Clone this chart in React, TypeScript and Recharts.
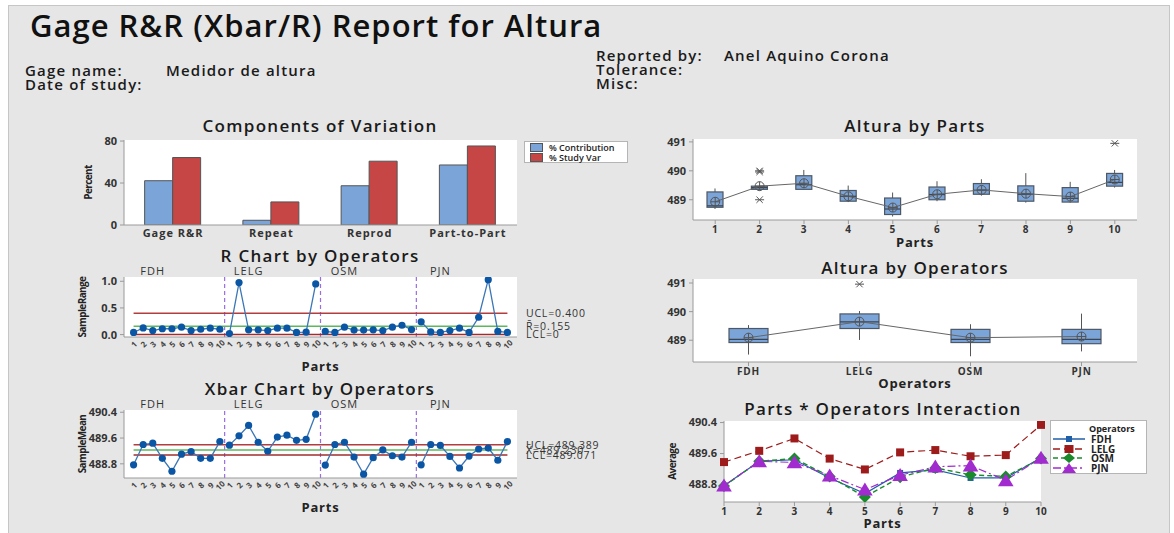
import React from "react";
import {
  Bar,
  CartesianGrid,
  ComposedChart,
  Line,
  ReferenceLine,
  XAxis,
  YAxis,
} from "recharts";

const FONT = "'Open Sans', 'DejaVu Sans', sans-serif";

// ---- Components of Variation
const compCategories = ["Gage R&R", "Repeat", "Reprod", "Part-to-Part"];
const pctContribution = [42.2, 4.5, 37.4, 57.2];
const pctStudyVar = [64.3, 22.0, 60.8, 75.3];

// ---- operators / parts
const operators = ["FDH", "LELG", "OSM", "PJN"];
const parts = ["1", "2", "3", "4", "5", "6", "7", "8", "9", "10"];

// sample ranges (parts 1..10) per operator
const rangeFDH = [0.04, 0.125, 0.075, 0.11, 0.11, 0.14, 0.075, 0.1, 0.12, 0.1];
const rangeLELG = [0.02, 0.975, 0.09, 0.09, 0.075, 0.12, 0.12, 0.04, 0.045, 0.95];
const rangeOSM = [0.06, 0.04, 0.14, 0.085, 0.085, 0.09, 0.075, 0.14, 0.175, 0.095];
const rangePJN = [0.24, 0.05, 0.04, 0.075, 0.12, 0.04, 0.325, 1.03, 0.06, 0.04];

// sample means (parts 1..10) per operator
const meanFDH = [488.77, 489.4, 489.44, 488.97, 488.57, 489.1, 489.18, 488.97, 488.97, 489.49];
const meanLELG = [489.38, 489.67, 489.99, 489.47, 489.19, 489.63, 489.69, 489.53, 489.56, 490.34];
const meanOSM = [488.76, 489.4, 489.47, 489.01, 488.48, 488.99, 489.23, 489.05, 489.01, 489.47];
const meanPJN = [488.77, 489.4, 489.37, 489.03, 488.67, 489.04, 489.26, 489.29, 488.91, 489.49];

const rUCL = 0.4;
const rBar = 0.155;
const rLCL = 0;
const xUCL = 489.389;
const xBar = 489.23;
const xLCL = 489.071;

// ---- Altura by Parts (box stats)
const partLo = [488.68, 489.36, 489.36, 488.92, 488.42, 488.95, 489.14, 488.9, 488.9, 489.42];
const partQ1 = [488.74, 489.36, 489.36, 488.95, 488.49, 489.0, 489.19, 488.95, 488.92, 489.47];
const partMed = [488.79, 489.42, 489.52, 489.12, 488.68, 489.18, 489.33, 489.19, 489.05, 489.6];
const partQ3 = [489.27, 489.47, 489.83, 489.32, 489.06, 489.44, 489.56, 489.48, 489.42, 489.91];
const partHi = [489.39, 489.47, 490.03, 489.49, 489.25, 489.64, 489.71, 489.92, 489.62, 490.03];
const partMean = [488.93, 489.47, 489.57, 489.12, 488.73, 489.19, 489.34, 489.21, 489.11, 489.7];
const partOutA = [null, 490.0, null, null, null, null, null, null, null, 490.95];
const partOutB = [null, 489.96, null, null, null, null, null, null, null, null];
const partOutC = [null, 489.0, null, null, null, null, null, null, null, null];

// ---- Altura by Operators (box stats)
const opLo = [488.5, 489.01, 488.44, 488.61];
const opQ1 = [488.92, 489.41, 488.92, 488.88];
const opMed = [489.03, 489.64, 489.03, 489.03];
const opQ3 = [489.41, 489.92, 489.38, 489.38];
const opHi = [489.53, 490.02, 489.56, 489.93];
const opMean = [489.09, 489.65, 489.09, 489.13];
const opOut = [null, 490.96, null, null];

const AXIS = "#9a9a9a";
const TICK = { fontSize: 11, fill: "#333", fontWeight: 700 };
const BOXBLUE = "#7ba4d8";

const compData = compCategories.map((c, i) => ({
  cat: c,
  contrib: pctContribution[i],
  study: pctStudyVar[i],
}));

const rangeByOp = [rangeFDH, rangeLELG, rangeOSM, rangePJN];
const meanByOp = [meanFDH, meanLELG, meanOSM, meanPJN];
const rRows = rangeByOp.flatMap((vals, k) =>
  vals.map((v, j) => ({ idx: k * 10 + j + 1, [operators[k]]: v })),
);
const xRows = meanByOp.flatMap((vals, k) =>
  vals.map((v, j) => ({ idx: k * 10 + j + 1, [operators[k]]: v })),
);
const seqTicks = rRows.map((r) => r.idx);

const partRows = parts.map((p, i) => ({
  name: p,
  lo: partLo[i],
  q1: partQ1[i],
  med: partMed[i],
  q3: partQ3[i],
  hi: partHi[i],
  mean: partMean[i],
  outA: partOutA[i],
  outB: partOutB[i],
  outC: partOutC[i],
}));
const opRows = operators.map((o, i) => ({
  name: o,
  lo: opLo[i],
  q1: opQ1[i],
  med: opMed[i],
  q3: opQ3[i],
  hi: opHi[i],
  mean: opMean[i],
  outA: opOut[i],
  outB: null,
  outC: null,
}));
const interRows = parts.map((p, i) => ({
  part: p,
  FDH: meanFDH[i],
  LELG: meanLELG[i],
  OSM: meanOSM[i],
  PJN: meanPJN[i],
}));

function Txt({ x, y, children, size = 15, weight = 600, center = false, color = "#1a1a1a", ls = 1.2 }: any) {
  return (
    <div
      style={{
        position: "absolute",
        left: x,
        top: y,
        transform: center ? "translate(-50%,-50%)" : "translateY(-50%)",
        fontSize: size,
        fontWeight: weight,
        color,
        whiteSpace: "nowrap",
        lineHeight: 1,
        letterSpacing: ls,
      }}
    >
      {children}
    </div>
  );
}

const yLabel = (text: string, dx: number) => ({
  content: (p: any) => {
    const vb = p.viewBox || { x: 0, y: 0, height: 0 };
    const cx = vb.x + dx;
    const cy = vb.y + vb.height / 2;
    return (
      <text
        x={cx}
        y={cy}
        transform={`rotate(-90 ${cx} ${cy})`}
        textAnchor="middle"
        dominantBaseline="central"
        fontSize={10}
        fontWeight={700}
        fill="#222"
        letterSpacing={-0.6}
      >
        {text}
      </text>
    );
  },
});

const RotTick = (p: any) => {
  const { x, y, payload } = p;
  return (
    <text
      transform={`translate(${x},${y + 5}) rotate(-45)`}
      textAnchor="middle"
      dominantBaseline="central"
      fontSize={8}
      fontWeight={700}
      fill="#444"
    >
      {((payload.value - 1) % 10) + 1}
    </text>
  );
};

const ctrlDot = (p: any) => {
  if (p.cy == null || p.value == null) return <g key={p.index} />;
  return <circle key={p.index} cx={p.cx} cy={p.cy} r={3.6} fill="#0b56a4" />;
};

const meanDot = (p: any) => {
  if (p.cy == null) return <g key={p.index} />;
  const { cx, cy } = p;
  return (
    <g key={p.index} stroke="#555" strokeWidth={1} fill="none">
      <circle cx={cx} cy={cy} r={4.5} />
      <line x1={cx - 4.5} x2={cx + 4.5} y1={cy} y2={cy} />
      <line x1={cx} x2={cx} y1={cy - 4.5} y2={cy + 4.5} />
    </g>
  );
};

const starDot = (p: any) => {
  if (p.cy == null || p.value == null) return <g key={p.index} />;
  const { cx, cy } = p;
  const s = 4.5;
  return (
    <g key={p.index} stroke="#555" strokeWidth={1}>
      <line x1={cx - s} x2={cx + s} y1={cy} y2={cy} />
      <line x1={cx - s * 0.7} x2={cx + s * 0.7} y1={cy - s * 0.7} y2={cy + s * 0.7} />
      <line x1={cx - s * 0.7} x2={cx + s * 0.7} y1={cy + s * 0.7} y2={cy - s * 0.7} />
    </g>
  );
};

const BoxShape = (props: any) => {
  const { x, y, width, height, payload } = props;
  const top = Math.min(y, y + height);
  const h = Math.abs(height);
  const { lo, hi, q1, q3, med } = payload;
  const py = (v: number) => (hi === lo ? top : top + ((hi - v) / (hi - lo)) * h);
  const cx = x + width / 2;
  return (
    <g>
      <line x1={cx} x2={cx} y1={py(hi)} y2={py(lo)} stroke="#555" />
      <rect
        x={x}
        y={py(q3)}
        width={width}
        height={Math.max(2, py(q1) - py(q3))}
        fill={BOXBLUE}
        stroke="#4d5866"
        strokeWidth={1.2}
      />
      <line x1={x} x2={x + width} y1={py(med)} y2={py(med)} stroke="#3d4550" strokeWidth={1.2} />
    </g>
  );
};

function BoxPanel({ data, left, top, width, height, marginTop, yWidth, domain, ticks, barSize, xHeight, xLabel, labelOffset, rightMargin }: any) {
  return (
    <div style={{ position: "absolute", left, top }}>
      <ComposedChart
        width={width}
        height={height}
        data={data}
        margin={{ top: marginTop, right: rightMargin, bottom: 0, left: 0 }}
      >
        <CartesianGrid fill="#fff" stroke="none" />
        <XAxis
          dataKey="name"
          height={xHeight}
          tick={{ ...TICK, fontSize: 10, letterSpacing: 0.8 }}
          tickSize={4}
          tickMargin={2}
          axisLine={{ stroke: AXIS }}
          tickLine={{ stroke: AXIS }}
          label={{ value: xLabel, position: "insideBottom", offset: labelOffset, fontSize: 13, fontWeight: 700, fill: "#222", letterSpacing: 0.8 }}
        />
        <XAxis xAxisId="top" dataKey="name" orientation="top" height={0} tick={false} tickLine={false} axisLine={{ stroke: AXIS }} />
        <YAxis
          width={yWidth}
          domain={domain}
          ticks={ticks}
          allowDataOverflow
          tick={TICK}
          tickSize={4}
          tickMargin={3}
          axisLine={{ stroke: AXIS }}
          tickLine={{ stroke: AXIS }}
        />
        <YAxis yAxisId="right" orientation="right" width={0} tick={false} tickLine={false} axisLine={{ stroke: AXIS }} />
        <Bar
          dataKey={(d: any) => [d.lo, d.hi]}
          barSize={barSize}
          shape={BoxShape}
          isAnimationActive={false}
        />
        <Line dataKey="mean" stroke="#666" strokeWidth={1} dot={meanDot} isAnimationActive={false} />
        <Line dataKey="outA" stroke="none" dot={starDot} isAnimationActive={false} />
        <Line dataKey="outB" stroke="none" dot={starDot} isAnimationActive={false} />
        <Line dataKey="outC" stroke="none" dot={starDot} isAnimationActive={false} />
      </ComposedChart>
    </div>
  );
}

function ControlPanel({ rows, top, height, marginTop, xHeight, domain, ticks, fmt, ucl, center, lcl, labels, yName, labelOffset }: any) {
  return (
    <div style={{ position: "absolute", left: 60, top }}>
      <ComposedChart
        width={580}
        height={height}
        data={rows}
        margin={{ top: marginTop, right: 123, bottom: 0, left: 0 }}
      >
        <CartesianGrid fill="#fff" stroke="none" />
        <XAxis
          type="number"
          dataKey="idx"
          domain={[0, 41]}
          ticks={seqTicks}
          interval={0}
          height={xHeight}
          tick={<RotTick />}
          tickSize={0}
          axisLine={{ stroke: AXIS }}
          label={{ value: "Parts", position: "insideBottom", offset: labelOffset, fontSize: 13, fontWeight: 700, fill: "#222", letterSpacing: 0.8 }}
        />
        <XAxis xAxisId="top" orientation="top" height={0} tick={false} tickLine={false} axisLine={{ stroke: AXIS }} />
        <YAxis
          width={64}
          domain={domain}
          ticks={ticks}
          allowDataOverflow
          tickFormatter={fmt}
          tick={TICK}
          tickSize={4}
          tickMargin={3}
          axisLine={{ stroke: AXIS }}
          tickLine={{ stroke: AXIS }}
          label={yLabel(yName, 22)}
        />
        <YAxis yAxisId="right" orientation="right" width={0} tick={false} tickLine={false} axisLine={{ stroke: AXIS }} />
        {[10.5, 20.5, 30.5].map((v) => (
          <ReferenceLine key={v} x={v} stroke="#9a6ee0" strokeDasharray="4 3" strokeWidth={1.2} />
        ))}
        {operators.map((op, k) => (
          <ReferenceLine
            key={op}
            x={k * 10 + 3}
            stroke="none"
            label={{ value: op, position: "top", offset: 2, fontSize: 11, fill: "#333", letterSpacing: 1 }}
          />
        ))}
        <ReferenceLine segment={[{ x: 1, y: ucl }, { x: 40, y: ucl }]} stroke="#b43c3c" strokeWidth={1.5} />
        <ReferenceLine segment={[{ x: 1, y: center }, { x: 40, y: center }]} stroke="#5cb85c" strokeWidth={1.5} />
        <ReferenceLine segment={[{ x: 1, y: lcl }, { x: 40, y: lcl }]} stroke="#a02c2c" strokeWidth={1.5} />
        {labels.map((l: any) => (
          <ReferenceLine
            key={l.text}
            y={l.y}
            stroke="none"
            label={{ value: l.text, position: "right", offset: 9, fontSize: 10.5, fill: "#333", letterSpacing: 0.8 }}
          />
        ))}
        {operators.map((op) => (
          <Line
            key={op}
            type="linear"
            dataKey={op}
            stroke="#3b76b7"
            strokeWidth={1.3}
            dot={ctrlDot}
            connectNulls={false}
            isAnimationActive={false}
          />
        ))}
      </ComposedChart>
    </div>
  );
}

const squareDot = (color: string, s: number) => (p: any) =>
  p.cy == null ? <g key={p.index} /> : <rect key={p.index} x={p.cx - s / 2} y={p.cy - s / 2} width={s} height={s} fill={color} />;
const diamondDot = (color: string, s: number) => (p: any) =>
  p.cy == null ? (
    <g key={p.index} />
  ) : (
    <polygon key={p.index} points={`${p.cx},${p.cy - s / 2} ${p.cx + s / 2},${p.cy} ${p.cx},${p.cy + s / 2} ${p.cx - s / 2},${p.cy}`} fill={color} />
  );
const triDot = (color: string, s: number) => (p: any) =>
  p.cy == null ? (
    <g key={p.index} />
  ) : (
    <polygon key={p.index} points={`${p.cx},${p.cy - s * 0.55} ${p.cx + s * 0.6},${p.cy + s * 0.45} ${p.cx - s * 0.6},${p.cy + s * 0.45}`} fill={color} />
  );

const interSeries = [
  { key: "FDH", color: "#1f5fa8", dash: undefined, dot: squareDot("#1f5fa8", 6), width: 1.2 },
  { key: "LELG", color: "#9e1b1b", dash: "7 4", dot: squareDot("#9e1b1b", 8), width: 1.2 },
  { key: "OSM", color: "#1b8a2c", dash: "5 3", dot: diamondDot("#1b8a2c", 12), width: 1.4 },
  { key: "PJN", color: "#a22bd0", dash: "8 3 2 3", dot: triDot("#a22bd0", 13), width: 1.2 },
];

function LegendSample({ s }: any) {
  const cx = 16;
  const cy = 5;
  let marker: any = null;
  if (s.key === "FDH") marker = <rect x={cx - 3} y={cy - 3} width={6} height={6} fill={s.color} />;
  if (s.key === "LELG") marker = <rect x={cx - 4.5} y={cy - 4} width={9} height={8} fill={s.color} />;
  if (s.key === "OSM") marker = <polygon points={`${cx},${cy - 5} ${cx + 6},${cy} ${cx},${cy + 5} ${cx - 6},${cy}`} fill={s.color} />;
  if (s.key === "PJN") marker = <polygon points={`${cx},${cy - 5} ${cx + 7},${cy + 5} ${cx - 7},${cy + 5}`} fill={s.color} />;
  return (
    <svg width={32} height={10} style={{ display: "block" }}>
      <line x1={0} x2={32} y1={cy} y2={cy} stroke={s.color} strokeWidth={1.5} strokeDasharray={s.dash} />
      {marker}
    </svg>
  );
}

export default function App() {
  return (
    <div
      style={{
        position: "absolute",
        left: 0,
        top: 0,
        width: 1174,
        height: 533,
        background: "#fff",
        overflow: "hidden",
        fontFamily: FONT,
      }}
    >
      <div
        style={{
          position: "absolute",
          left: 8,
          top: 5,
          width: 1160,
          height: 540,
          background: "#e6e6e6",
          border: "1px solid #c6c6c6",
        }}
      />
      {/* header */}
      <Txt x={30} y={25} size={31} weight={600} color="#111" ls={1}>
        Gage R&amp;R (Xbar/R) Report for Altura
      </Txt>
      <Txt x={596} y={55}>Reported by:</Txt>
      <Txt x={724} y={55}>Anel Aquino Corona</Txt>
      <Txt x={25} y={70}>Gage name:</Txt>
      <Txt x={166} y={70}>Medidor de altura</Txt>
      <Txt x={596} y={69}>Tolerance:</Txt>
      <Txt x={25} y={84}>Date of study:</Txt>
      <Txt x={596} y={83}>Misc:</Txt>

      {/* panel titles */}
      <Txt x={320} y={125} size={17} ls={1.3} center>Components of Variation</Txt>
      <Txt x={320} y={255} size={17} ls={1.3} center>R Chart by Operators</Txt>
      <Txt x={320} y={388} size={17} ls={1.3} center>Xbar Chart by Operators</Txt>
      <Txt x={915} y={125} size={17} ls={1.3} center>Altura by Parts</Txt>
      <Txt x={915} y={267} size={17} ls={1.3} center>Altura by Operators</Txt>
      <Txt x={883} y={408} size={17} ls={1.3} center>Parts * Operators Interaction</Txt>

      {/* Components of Variation */}
      <div style={{ position: "absolute", left: 60, top: 115 }}>
        <ComposedChart
          width={580}
          height={130}
          data={compData}
          margin={{ top: 25, right: 123, bottom: 0, left: 0 }}
          barCategoryGap="21%"
          barGap={0}
        >
          <CartesianGrid fill="#fff" stroke="none" />
          <XAxis
            dataKey="cat"
            height={20}
            tick={{ ...TICK, letterSpacing: 1 }}
            tickSize={0}
            tickMargin={4}
            axisLine={{ stroke: AXIS }}
          />
          <XAxis xAxisId="top" dataKey="cat" orientation="top" height={0} tick={false} tickLine={false} axisLine={{ stroke: AXIS }} />
          <YAxis
            width={64}
            domain={[0, 81]}
            ticks={[0, 40, 80]}
            allowDataOverflow
            tick={TICK}
            tickSize={4}
            tickMargin={3}
            axisLine={{ stroke: AXIS }}
            tickLine={{ stroke: AXIS }}
            label={yLabel("Percent", 28)}
          />
          <YAxis yAxisId="right" orientation="right" width={0} tick={false} tickLine={false} axisLine={{ stroke: AXIS }} />
          <Bar dataKey="contrib" fill="#7ba4d8" stroke="#555" strokeWidth={1} isAnimationActive={false} />
          <Bar dataKey="study" fill="#c64545" stroke="#555" strokeWidth={1} isAnimationActive={false} />
        </ComposedChart>
      </div>
      <div
        style={{
          position: "absolute",
          left: 524,
          top: 141,
          width: 102,
          height: 20,
          background: "#fff",
          border: "1px solid #b5b5b5",
          fontSize: 9,
          fontWeight: 600,
          color: "#222",
        }}
      >
        {[
          ["#7ba4d8", "% Contribution"],
          ["#c64545", "% Study Var"],
        ].map(([c, t], i) => (
          <div key={t} style={{ position: "absolute", left: 5, top: 1 + i * 10, display: "flex", alignItems: "center", gap: 6, lineHeight: "9px" }}>
            <span style={{ display: "inline-block", width: 11, height: 7, background: c, border: "1px solid #555" }} />
            {t}
          </div>
        ))}
      </div>

      {/* R chart */}
      <ControlPanel
        rows={rRows}
        top={262}
        height={118}
        marginTop={15}
        xHeight={43}
        domain={[-0.045, 1.08]}
        ticks={[0, 0.5, 1]}
        fmt={(v: number) => v.toFixed(1)}
        ucl={rUCL}
        center={rBar}
        lcl={rLCL}
        yName="SampleRange"
        labelOffset={9}
        labels={[
          { y: rUCL, text: "UCL=0.400" },
          { y: rBar, text: "R\u0304=0.155" },
          { y: rLCL, text: "LCL=0" },
        ]}
      />

      {/* Xbar chart */}
      <ControlPanel
        rows={xRows}
        top={395}
        height={125}
        marginTop={15}
        xHeight={42}
        domain={[488.36, 490.47]}
        ticks={[488.8, 489.6, 490.4]}
        fmt={(v: number) => v.toFixed(1)}
        ucl={xUCL}
        center={xBar}
        lcl={xLCL}
        yName="SampleMean"
        labelOffset={8}
        labels={[
          { y: xUCL, text: "UCL=489.389" },
          { y: xBar, text: "X\u0304=489.230" },
          { y: xLCL, text: "LCL=489.071" },
        ]}
      />

      {/* Altura by Parts */}
      <BoxPanel
        data={partRows}
        left={640}
        top={130}
        width={520}
        height={126}
        marginTop={9}
        yWidth={53}
        rightMargin={23}
        domain={[488.3, 491.1]}
        ticks={[489, 490, 491]}
        barSize={16}
        xHeight={36}
        xLabel="Parts"
        labelOffset={9}
      />

      {/* Altura by Operators */}
      <BoxPanel
        data={opRows}
        left={640}
        top={272}
        width={520}
        height={124}
        marginTop={7}
        yWidth={53}
        rightMargin={23}
        domain={[488.24, 491.14]}
        ticks={[489, 490, 491]}
        barSize={39}
        xHeight={34}
        xLabel="Operators"
        labelOffset={8}
      />

      {/* Interaction */}
      <div style={{ position: "absolute", left: 640, top: 412 }}>
        <ComposedChart
          width={530}
          height={121}
          data={interRows}
          margin={{ top: 9, right: 129, bottom: 0, left: 0 }}
        >
          <CartesianGrid fill="#fff" stroke="none" />
          <XAxis
            dataKey="part"
            height={31}
            tick={{ ...TICK, fontSize: 10 }}
            tickSize={4}
            tickMargin={2}
            axisLine={{ stroke: AXIS }}
            tickLine={{ stroke: AXIS }}
            label={{ value: "Parts", position: "insideBottom", offset: 5, fontSize: 13, fontWeight: 700, fill: "#222", letterSpacing: 0.8 }}
          />
          <XAxis xAxisId="top" dataKey="part" orientation="top" height={0} tick={false} tickLine={false} axisLine={{ stroke: AXIS }} />
          <YAxis
            width={84}
            domain={[488.35, 490.44]}
            ticks={[488.8, 489.6, 490.4]}
            allowDataOverflow
            tickFormatter={(v: number) => v.toFixed(1)}
            tick={TICK}
            tickSize={4}
            tickMargin={3}
            axisLine={{ stroke: AXIS }}
            tickLine={{ stroke: AXIS }}
            label={yLabel("Average", 32)}
          />
          <YAxis yAxisId="right" orientation="right" width={0} tick={false} tickLine={false} axisLine={{ stroke: AXIS }} />
          {interSeries.map((s) => (
            <Line
              key={s.key}
              type="linear"
              dataKey={s.key}
              stroke={s.color}
              strokeWidth={s.width}
              strokeDasharray={s.dash}
              dot={s.dot}
              isAnimationActive={false}
            />
          ))}
        </ComposedChart>
      </div>
      <div
        style={{
          position: "absolute",
          left: 1050,
          top: 420,
          width: 95,
          height: 52,
          background: "#fff",
          border: "1px solid #b5b5b5",
          fontSize: 10,
          fontWeight: 700,
          color: "#222",
        }}
      >
        <div style={{ position: "absolute", left: 38, top: 3, fontSize: 9, lineHeight: "9px" }}>Operators</div>
        {interSeries.map((s, i) => (
          <div key={s.key} style={{ position: "absolute", left: 2, top: 13 + i * 9.5, display: "flex", alignItems: "center", gap: 6, lineHeight: "10px" }}>
            <LegendSample s={s} />
            {s.key}
          </div>
        ))}
      </div>
    </div>
  );
}
